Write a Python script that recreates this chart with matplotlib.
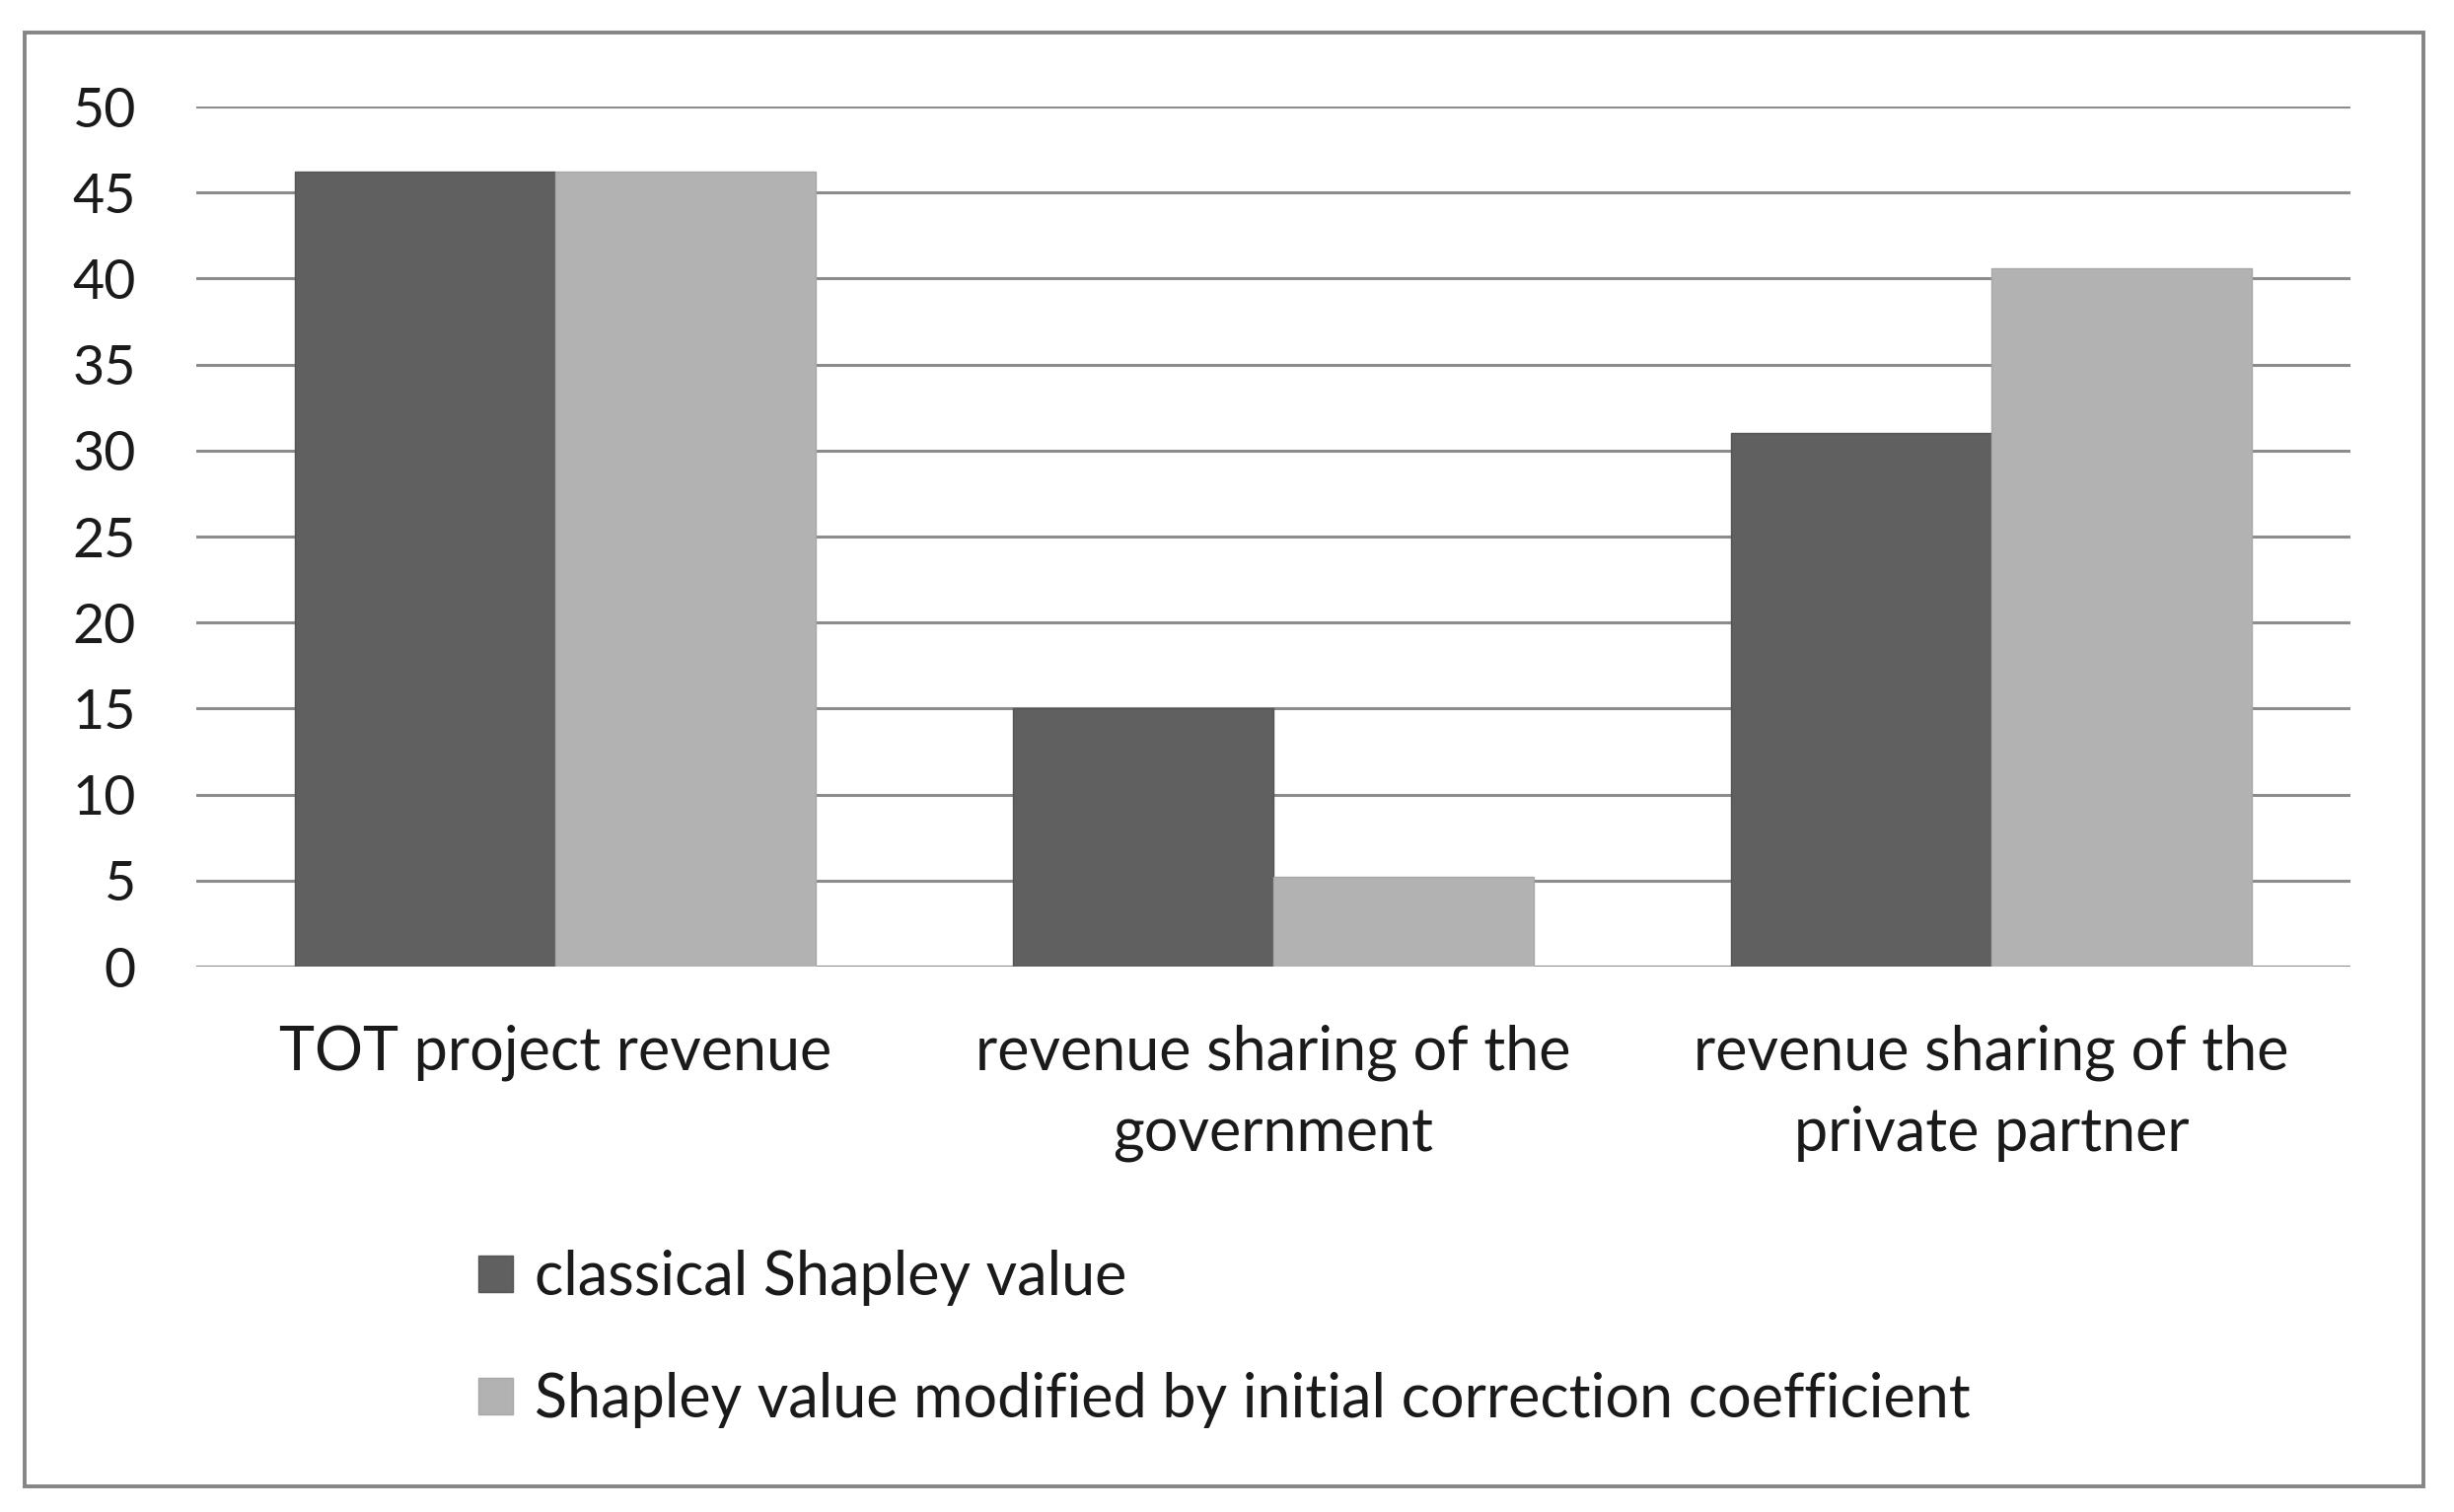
import numpy as np
import matplotlib
matplotlib.use("Agg")
import matplotlib.pyplot as plt
from matplotlib.patches import Rectangle

categories = [
    "TOT project revenue",
    "revenue sharing of the\ngovernment",
    "revenue sharing of the\nprivate partner",
]
classical = [46.2, 15.0, 31.0]
modified = [46.2, 5.2, 40.6]
series_names = [
    "classical Shapley value",
    "Shapley value modified by initial correction coefficient",
]
y_ticks = list(range(0, 51, 5))

plt.rcParams["font.family"] = ["Lato", "DejaVu Sans"]
plt.rcParams["text.color"] = "#1a1a1a"

fig = plt.figure(figsize=(24.88, 15.33), dpi=100)
ax = fig.add_axes([0.0800, 0.3607, 0.8778, 0.5688])

x = np.arange(len(categories))
width = 0.3625
ax.bar(x - width / 2, classical, width, color="#606060", edgecolor="#555555",
       linewidth=1.0, label=series_names[0], zorder=3)
ax.bar(x + width / 2, modified, width, color="#b2b2b2", edgecolor="#a8a8a8",
       linewidth=1.0, label=series_names[1], zorder=3)

ax.set_xlim(-0.5, 2.5)
ax.set_ylim(0, 50)
ax.set_yticks(y_ticks)
ax.set_xticks(x)
ax.set_xticklabels(categories, fontsize=44, linespacing=1.55)
ax.tick_params(axis="y", length=0, pad=44, labelsize=40, labelcolor="#1a1a1a")
ax.tick_params(axis="x", length=0, pad=42, labelcolor="#1a1a1a")
ax.grid(axis="y", color="#8c8c8c", linewidth=2.2, zorder=0)
ax.set_axisbelow(True)
for side in ["top", "right", "left", "bottom"]:
    ax.spines[side].set_visible(False)

handles, labels = ax.get_legend_handles_labels()
fig.legend(handles, labels, loc="upper left", bbox_to_anchor=(0.185, 0.1895),
           frameon=False, fontsize=44, handlelength=0.57, handleheight=0.57,
           handletextpad=0.36, labelspacing=1.1, borderaxespad=0)

# outer border around the chart area
fig.patches.append(Rectangle((25 / 2488, 1 - 1507 / 1533), (2457 - 25) / 2488,
                             (1507 - 33) / 1533, transform=fig.transFigure,
                             fill=False, edgecolor="#858585", linewidth=2.8))

fig.savefig("out.png", dpi=100, facecolor="white")
